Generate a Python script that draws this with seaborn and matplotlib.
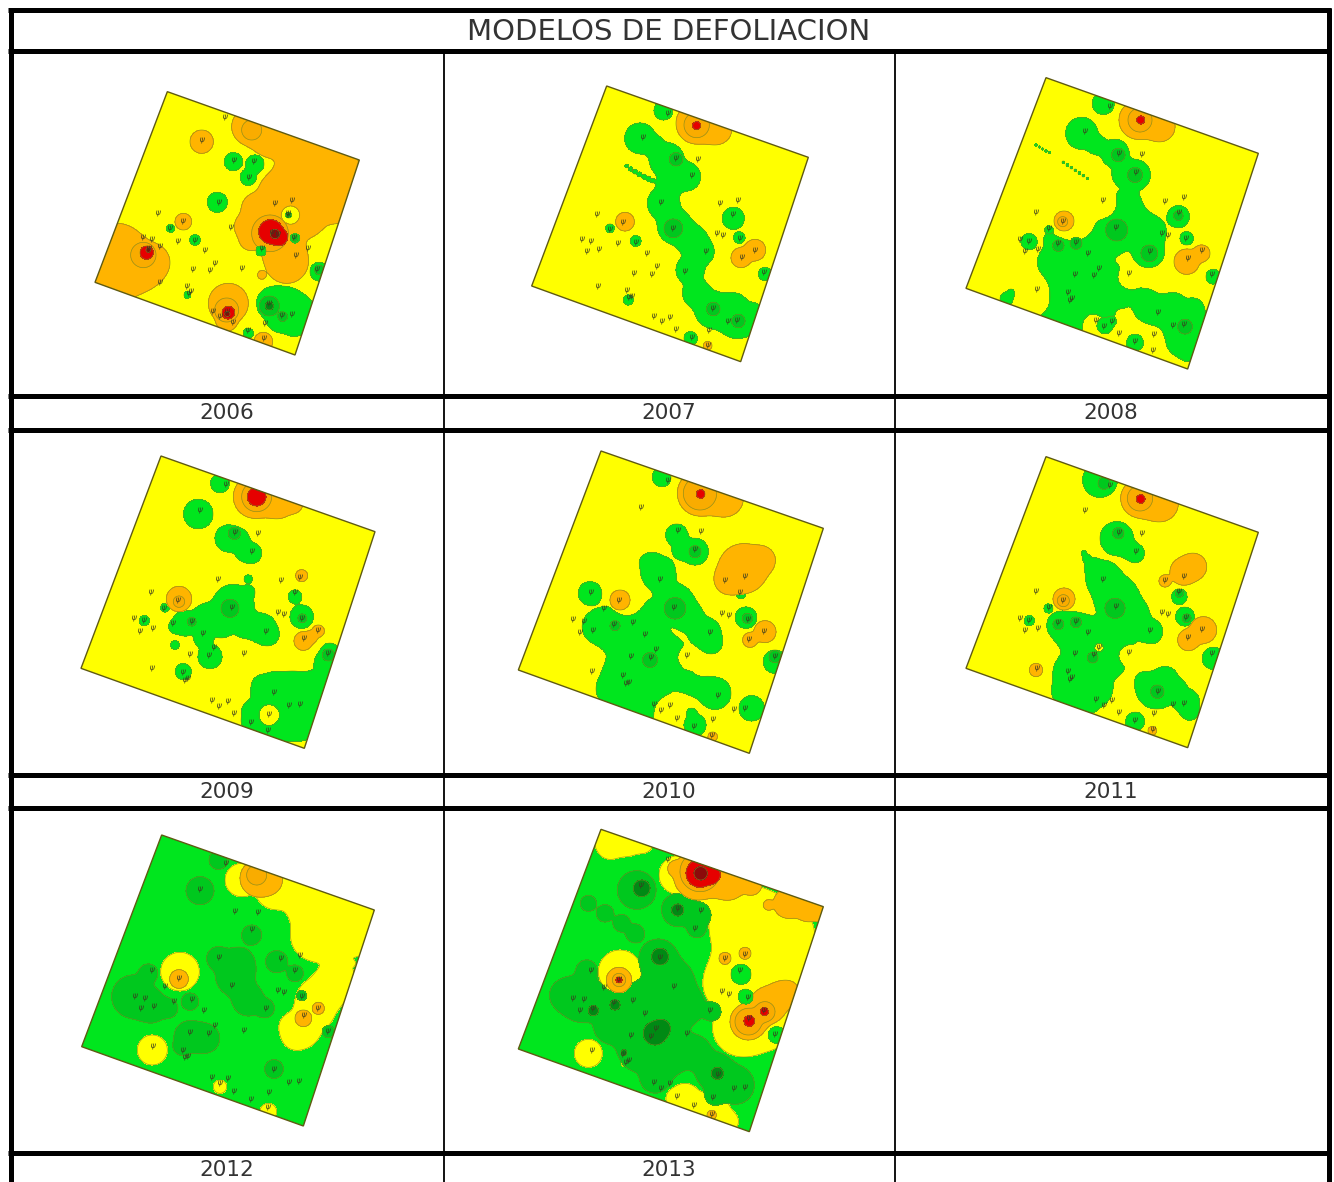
import numpy as np
import seaborn as sns
import matplotlib.pyplot as plt
from matplotlib.patches import Polygon

# years and table texts
TITLE = 'MODELOS DE DEFOLIACION'
YEARS = ['2006', '2007', '2008', '2009', '2010', '2011', '2012', '2013']
YEAR_X = [227, 669, 1111, 227, 669, 1111, 227, 669]
YEAR_Y = [413, 413, 413, 792, 792, 792, 1170, 1170]

TREE_X = [375, 452, 480, 548, 530, 430, 618, 675, 660, 682, 608, 628, 573, 730, 687, 470, 310, 268, 228, 178, 208, 196,
          235, 295, 350, 385, 418, 402, 345, 508, 232, 323, 330, 338, 410, 433, 458, 478, 583, 597, 643, 674, 528, 580, 760]
TREE_Y = [165, 88, 232, 235, 287, 372, 375, 365, 410, 488, 472, 478, 527, 525, 548, 455, 435, 458, 410, 490, 495, 527,
          520, 503, 498, 533, 577, 600, 597, 593, 640, 652, 675, 670, 735, 752, 738, 775, 778, 710, 750, 747, 800, 826, 595]
TREE_REF = (258, 3)

# colours of the classes
YELLOW = '#FFFF00'
GREEN = '#00E61E'
MID = '#00C81E'
DARK = '#008A14'
ORANGE = '#FFB400'
ORANGE2 = '#F9AC00'
RED = '#E60000'
DRED = '#8C0A0A'

# map 2006: zones as (x, y, radius)
A_ORANGE = [(510, 140, 55), (570, 170, 60), (680, 240, 70), (640, 340, 85), (720, 260, 110), (760, 340, 90), (680, 420, 50),
            (590, 340, 50), (530, 385, 45), (505, 440, 42), (510, 480, 30), (600, 470, 70), (620, 545, 65),
            (110, 520, 90), (120, 590, 70), (185, 560, 70), (220, 545, 45), (365, 185, 35), (310, 425, 25),
            (445, 670, 60), (440, 725, 28), (550, 785, 28), (545, 585, 12)]
A_CUT = [(632, 405, 26)]
A_RING = [(515, 150, 30), (570, 460, 55), (190, 525, 38), (440, 690, 36)]
A_RED = [(572, 455, 36), (598, 472, 24), (200, 518, 20), (445, 698, 19)]
A_DRED = [(585, 462, 14), (205, 510, 7), (442, 702, 8)]
A_GREEN = [(460, 245, 27), (525, 252, 27), (505, 292, 24), (412, 367, 30), (272, 445, 12), (345, 480, 16), (543, 513, 15),
           (645, 475, 14), (718, 575, 28), (322, 645, 10), (505, 760, 15), (580, 670, 50), (635, 695, 55), (650, 725, 38),
           (620, 670, 45), (660, 690, 38), (600, 720, 36), (640, 740, 24), (626, 405, 9)]
A_MID = [(568, 678, 30), (608, 710, 14), (645, 475, 8), (718, 570, 14)]
A_DARK = [(568, 678, 12), (625, 405, 6)]

# map 2007
B_ORANGE = [(530, 130, 62), (590, 148, 45), (315, 425, 28), (663, 533, 30), (705, 510, 32), (563, 797, 13)]
B_RING = [(530, 135, 38)]
B_RED = [(530, 137, 12)]
B_GREEN = [(360, 175, 46), (400, 195, 28), (440, 240, 52), (500, 290, 42), (450, 310, 38), (430, 370, 48), (465, 440, 52),
           (515, 480, 46), (540, 515, 42), (510, 570, 42), (530, 640, 42), (580, 690, 55), (650, 720, 55), (690, 720, 40),
           (640, 680, 40), (700, 700, 28), (320, 258, 5), (332, 267, 6), (345, 275, 7), (358, 283, 7), (372, 290, 7),
           (385, 296, 7), (398, 302, 6), (410, 306, 5),
           (430, 92, 28), (640, 415, 33), (658, 473, 17), (735, 582, 20), (270, 445, 13), (347, 483, 16), (325, 660, 15),
           (512, 775, 20)]
B_MID = [(468, 238, 20), (460, 445, 28), (580, 687, 20), (655, 723, 20)]

# map 2008
C_GREEN = [(365, 175, 48), (410, 210, 28), (465, 235, 42), (525, 300, 46), (490, 300, 33), (500, 380, 38), (500, 440, 68),
           (570, 470, 48), (565, 530, 48), (440, 480, 68), (350, 530, 68), (300, 530, 48), (270, 495, 18), (268, 465, 14),
           (300, 600, 58), (300, 680, 48), (350, 680, 68), (400, 640, 68), (440, 620, 58), (340, 600, 68),
           (600, 710, 48), (680, 750, 48), (650, 720, 48), (560, 700, 38), (705, 720, 28), (670, 800, 38), (640, 780, 38),
           (480, 660, 40), (540, 670, 30), (560, 680, 35), (640, 690, 35), (700, 700, 30), (680, 800, 50), (690, 830, 25),
           (250, 690, 45), (300, 720, 40), (350, 730, 40), (400, 720, 30), (270, 560, 35), (440, 710, 25),
           (680, 845, 10), (140, 672, 20), (155, 655, 14), (207, 500, 24), (655, 425, 33), (680, 490, 20), (760, 605, 22),
           (430, 85, 33), (228, 210, 3), (238, 216, 3), (248, 222, 3), (258, 228, 3), (268, 233, 3), (310, 262, 4), (322, 270, 4),
           (334, 278, 4), (346, 286, 4), (358, 294, 4), (370, 302, 4), (382, 310, 3)]
C_CUT = [(508, 608, 32), (555, 620, 15), (400, 748, 30), (470, 760, 28), (490, 725, 14), (480, 790, 35), (575, 800, 38),
         (215, 645, 48), (225, 680, 40), (425, 385, 42), (340, 432, 62)]
C_GREEN2 = [(525, 803, 25), (435, 752, 24), (455, 738, 14), (268, 465, 12)]
C_ORANGE = [(535, 135, 58), (600, 155, 45), (312, 438, 30), (680, 560, 38), (725, 535, 25)]
C_RING = [(540, 135, 36), (308, 440, 15)]
C_RED = [(542, 135, 12)]
C_MID = [(475, 240, 20), (525, 300, 22), (470, 465, 33), (568, 535, 25), (295, 512, 17), (348, 505, 18), (675, 755, 22),
         (655, 422, 14)]

# map 2009
D_GREEN = [(370, 177, 44), (435, 85, 28), (460, 250, 40), (490, 255, 33), (530, 295, 30), (510, 290, 28), (475, 450, 62),
           (520, 372, 12), (520, 410, 18), (395, 490, 44), (330, 505, 38), (300, 515, 18), (560, 520, 44), (510, 510, 38),
           (440, 510, 38), (405, 605, 36), (385, 550, 28), (580, 540, 30), (270, 458, 13), (208, 497, 15), (300, 570, 13), (325, 650, 24),
           (660, 425, 20), (680, 485, 35), (590, 720, 62), (650, 720, 68), (670, 790, 68), (540, 790, 30), (600, 800, 58),
           (560, 690, 25), (600, 690, 30), (660, 690, 30), (700, 690, 30), (530, 770, 30), (520, 800, 20),
           (720, 700, 48), (760, 625, 42), (765, 590, 25)]
D_CUT = [(583, 780, 30)]
D_ORANGE = [(540, 125, 65), (610, 140, 50), (655, 145, 28), (312, 432, 38), (680, 362, 18), (685, 558, 28), (730, 528, 18),
            (710, 545, 18)]
D_RING = [(545, 125, 45), (312, 440, 17)]
D_RED = [(545, 125, 28)]
D_MID = [(478, 235, 18), (465, 460, 27), (350, 500, 13), (682, 490, 13), (760, 600, 18)]

# map 2010
E_GREEN = [(225, 430, 35), (440, 82, 28), (485, 255, 33), (540, 305, 40), (500, 300, 28), (395, 335, 18), (410, 340, 30),
           (450, 350, 20), (430, 370, 52),
           (480, 460, 58), (520, 500, 44), (570, 550, 48), (590, 580, 30), (350, 520, 88), (250, 530, 48), (300, 540, 58), (380, 600, 88),
           (330, 680, 68), (400, 700, 78), (460, 620, 58), (520, 700, 38), (600, 730, 48), (560, 710, 33),
           (290, 720, 45), (350, 750, 45), (400, 770, 35)]
E_CUT = [(520, 622, 30), (560, 650, 25), (470, 775, 36), (500, 762, 28), (450, 785, 30), (335, 445, 50)]
E_GREEN2 = [(540, 825, 33), (530, 790, 15), (693, 503, 32), (678, 432, 14), (710, 775, 38), (780, 635, 35)]
E_ORANGE = [(555, 130, 68), (630, 145, 55), (315, 450, 30), (690, 350, 60), (740, 330, 40), (640, 390, 40), (680, 360, 68),
            (705, 570, 22), (750, 545, 33), (593, 860, 14)]
E_RING = [(555, 130, 50)]
E_RED = [(557, 132, 13)]
E_MID = [(480, 475, 32), (540, 305, 18), (300, 527, 15), (405, 630, 22), (697, 505, 15), (780, 620, 18)]

# map 2011
F_GREEN = [(420, 75, 52), (470, 250, 50), (525, 295, 28), (500, 280, 25), (372, 295, 8), (380, 310, 12), (400, 335, 25), (430, 370, 52), (470, 430, 68),
           (520, 480, 48), (570, 530, 38), (300, 510, 38), (340, 530, 58), (400, 560, 68), (330, 650, 48), (340, 700, 58),
           (400, 700, 58), (450, 620, 48), (380, 620, 68), (470, 560, 58), (310, 710, 30), (350, 740, 40), (390, 745, 25),
           (265, 460, 13), (208, 497, 15), (658, 425, 23),
           (675, 485, 28), (590, 700, 62), (680, 740, 38), (650, 700, 28), (560, 680, 30), (620, 670, 30), (690, 770, 25),
           (760, 610, 33), (525, 800, 28)]
F_CUT = [(508, 602, 30), (560, 610, 35), (417, 578, 13)]
F_ORANGE = [(540, 130, 58), (600, 145, 55), (312, 432, 33), (670, 350, 40), (700, 335, 40), (615, 378, 18), (685, 555, 32),
            (730, 525, 40), (228, 645, 20), (577, 827, 13)]
F_RING = [(540, 130, 38), (310, 437, 18)]
F_RED = [(542, 132, 13)]
F_MID = [(475, 235, 17), (465, 460, 30), (295, 508, 16), (348, 502, 16), (398, 608, 16), (592, 710, 20), (432, 85, 18),
         (680, 490, 13), (658, 415, 12)]

# map 2012, green is the background here
G_YELLOW = [(500, 150, 50), (600, 180, 58), (700, 220, 68), (790, 240, 98), (720, 320, 72), (800, 300, 88), (870, 330, 38),
            (680, 600, 55), (720, 540, 60), (760, 490, 48), (800, 430, 33), (830, 400, 10), (770, 460, 55), (720, 500, 50),
            (650, 590, 35), (660, 620, 35), (315, 425, 58), (232, 660, 45),
            (435, 770, 20), (580, 845, 25)]
G_ORANGE = [(550, 145, 55), (580, 150, 40), (312, 447, 28), (685, 565, 25), (730, 535, 18)]
G_RING = [(545, 135, 30)]
G_MID = [(375, 182, 42), (430, 90, 28), (530, 315, 30), (220, 430, 28), (175, 500, 65), (230, 530, 48), (280, 535, 28),
         (345, 515, 26), (430, 385, 35), (480, 440, 58), (490, 400, 48), (520, 510, 48), (570, 535, 28), (345, 620, 48),
         (390, 625, 44), (320, 650, 24), (605, 395, 33), (660, 430, 25), (680, 497, 15), (597, 717, 28), (760, 605, 18)]

# map 2013, green background too
H_YELLOW = [(290, 40, 50), (350, 40, 45), (330, 50, 40), (285, 65, 35), (385, 55, 28), (490, 150, 58), (560, 200, 50), (640, 200, 60), (700, 300, 118), (800, 330, 98),
            (680, 450, 98), (740, 560, 118), (680, 620, 68), (850, 440, 50), (640, 480, 68), (660, 610, 58), (220, 685, 42),
            (315, 440, 65), (328, 715, 10), (510, 820, 45), (570, 850, 45), (620, 880, 30), (600, 860, 45), (640, 890, 30), (480, 820, 25)]
H_MID = [(365, 195, 58), (490, 255, 50), (545, 310, 28), (550, 270, 38), (220, 235, 24), (270, 265, 26), (320, 295, 26),
         (360, 325, 28), (430, 400, 58), (470, 470, 68), (510, 540, 58), (420, 560, 98), (340, 580, 88), (280, 610, 38),
         (200, 520, 72), (150, 510, 44), (215, 435, 30), (370, 680, 58), (450, 680, 78), (420, 760, 44), (540, 680, 48),
         (590, 560, 28), (600, 740, 58), (660, 780, 58), (600, 810, 30)]
H_DARK = [(380, 190, 25), (488, 255, 18), (435, 395, 25), (420, 625, 35), (440, 610, 25), (235, 557, 15), (300, 540, 15),
          (607, 745, 18), (327, 683, 9), (785, 630, 10)]
H_ORANGE = [(550, 150, 75), (640, 170, 55), (710, 180, 30), (480, 130, 20), (820, 235, 45), (880, 250, 40), (920, 260, 30), (760, 240, 15),
            (700, 590, 55), (760, 540, 55), (800, 510, 40), (820, 500, 30), (630, 400, 18), (690, 385, 18), (312, 465, 38), (590, 870, 14)]
H_RING = [(555, 140, 60), (700, 590, 40), (750, 560, 30), (312, 465, 20)]
H_RED = [(555, 145, 42), (590, 150, 25), (703, 588, 16), (748, 560, 12), (312, 465, 9)]
H_DRED = [(557, 145, 20)]
H_GREEN = [(678, 448, 30), (692, 515, 22), (785, 630, 25)]

# crop origin of every map in the page and its four corners
ORIGINS = [(80, 80), (520, 80), (960, 75), (75, 455), (515, 450), (960, 455), (75, 830), (515, 825)]
CORNERS = [
    [(262, 35), (838, 240), (645, 825), (45, 607)],
    [(260, 18), (865, 232), (662, 845), (35, 618)],
    [(258, 8), (895, 235), (683, 882), (18, 640)],
    [(258, 3), (900, 230), (688, 880), (18, 640)],
    [(258, 3), (925, 235), (703, 910), (10, 660)],
    [(258, 5), (895, 232), (683, 878), (18, 640)],
    [(260, 15), (898, 240), (685, 888), (20, 650)],
    [(258, 13), (925, 245), (703, 920), (10, 672)],
]
SCALES = [0.897, 0.943, 0.993, 1.0, 1.037, 0.993, 0.993, 1.037]
BACKGROUNDS = [YELLOW, YELLOW, YELLOW, YELLOW, YELLOW, YELLOW, GREEN, GREEN]
# colour, sites, and the spots cut out of that zone
LAYERS = [
    [(ORANGE, A_ORANGE, A_CUT), (ORANGE2, A_RING, []), (RED, A_RED, []), (DRED, A_DRED, []), (GREEN, A_GREEN, []), (MID, A_MID, []), (DARK, A_DARK, [])],
    [(ORANGE, B_ORANGE, []), (ORANGE2, B_RING, []), (RED, B_RED, []), (GREEN, B_GREEN, []), (MID, B_MID, [])],
    [(GREEN, C_GREEN, C_CUT), (GREEN, C_GREEN2, []), (ORANGE, C_ORANGE, []), (ORANGE2, C_RING, []), (RED, C_RED, []), (MID, C_MID, [])],
    [(GREEN, D_GREEN, D_CUT), (ORANGE, D_ORANGE, []), (ORANGE2, D_RING, []), (RED, D_RED, []), (MID, D_MID, [])],
    [(GREEN, E_GREEN, E_CUT), (GREEN, E_GREEN2, []), (ORANGE, E_ORANGE, []), (ORANGE2, E_RING, []), (RED, E_RED, []), (MID, E_MID, [])],
    [(GREEN, F_GREEN, F_CUT), (ORANGE, F_ORANGE, []), (ORANGE2, F_RING, []), (RED, F_RED, []), (MID, F_MID, [])],
    [(YELLOW, G_YELLOW, []), (ORANGE, G_ORANGE, []), (ORANGE2, G_RING, []), (MID, G_MID, [])],
    [(YELLOW, H_YELLOW, []), (MID, H_MID, []), (DARK, H_DARK, []), (ORANGE, H_ORANGE, []), (ORANGE2, H_RING, []), (RED, H_RED, []), (DRED, H_DRED, []), (GREEN, H_GREEN, [])],
]

# table lines
THICK_Y = [9.5, 51, 395.5, 429.5, 774.5, 807.5, 1152.5]
THIN_X = [444, 895]
EDGE_X = [10.5, 1328.5]

sns.set_theme(style='white')
plt.rcParams['font.family'] = ['DejaVu Sans']

fig = plt.figure(figsize=(13.34, 11.82), dpi=100)
ax = fig.add_axes([0, 0, 1, 1])
ax.set_xlim(0, 1334)
ax.set_ylim(1182, 0)
ax.axis('off')


def bumps(X, Y, sites, ox, oy):
    total = np.zeros_like(X)
    for sx, sy, r in sites:
        d2 = (X - (ox + sx / 3)) ** 2 + (Y - (oy + sy / 3)) ** 2
        total += np.exp(2 * (1 - d2 / (r / 3) ** 2))
    return total


for i in range(8):
    ox, oy = ORIGINS[i]
    corners = [(ox + c[0] / 3, oy + c[1] / 3) for c in CORNERS[i]]
    back = Polygon(corners, closed=True, facecolor=BACKGROUNDS[i], edgecolor='none', zorder=2)
    ax.add_patch(back)

    gx = np.linspace(0, 940, 471)
    gy = np.linspace(0, 940, 471)
    X, Y = np.meshgrid(ox + gx / 3, oy + gy / 3)
    for color, sites, cuts in LAYERS[i]:
        # the zone is where the sum of the site bumps gets over 1
        field = bumps(X, Y, sites, ox, oy)
        if cuts:
            field = field * (1 - np.minimum(bumps(X, Y, cuts, ox, oy), 1))
        cf = ax.contourf(X, Y, field, levels=[1, field.max() + 1], colors=[color], zorder=3)
        cl = ax.contour(X, Y, field, levels=[1], colors='#7c8a20', linewidths=0.5, alpha=0.8, zorder=3)
        cf.set_clip_path(back)
        cl.set_clip_path(back)

    ax.add_patch(Polygon(corners, closed=True, fill=False, edgecolor='#5f5a12', linewidth=1.0, zorder=4))

    # the trees keep their place on the ground, only scale and shift change
    tx = ox + (CORNERS[i][0][0] + SCALES[i] * (np.array(TREE_X) - TREE_REF[0])) / 3
    ty = oy + (CORNERS[i][0][1] + SCALES[i] * (np.array(TREE_Y) - TREE_REF[1])) / 3
    sns.scatterplot(x=tx, y=ty, marker='$\\psi$', s=18, color='#3a3a20', linewidth=0, ax=ax, legend=False, zorder=5)

    ax.text(YEAR_X[i], YEAR_Y[i], YEARS[i], fontsize=15.5, color='#333333', ha='center', va='center', zorder=6)

ax.text(669, 32, TITLE, fontsize=21, color='#333333', ha='center', va='center', zorder=6)

# table grid
ax.hlines(THICK_Y, 8, 1331, color='black', linewidth=3.6, zorder=7)
ax.vlines(EDGE_X, 7.5, 1182, color='black', linewidth=3.6, zorder=7)
ax.vlines(THIN_X, 51, 1182, color='black', linewidth=1.3, zorder=7)

ax.set_xlim(0, 1334)
ax.set_ylim(1182, 0)
fig.savefig('out.png', dpi=100, facecolor='white')
